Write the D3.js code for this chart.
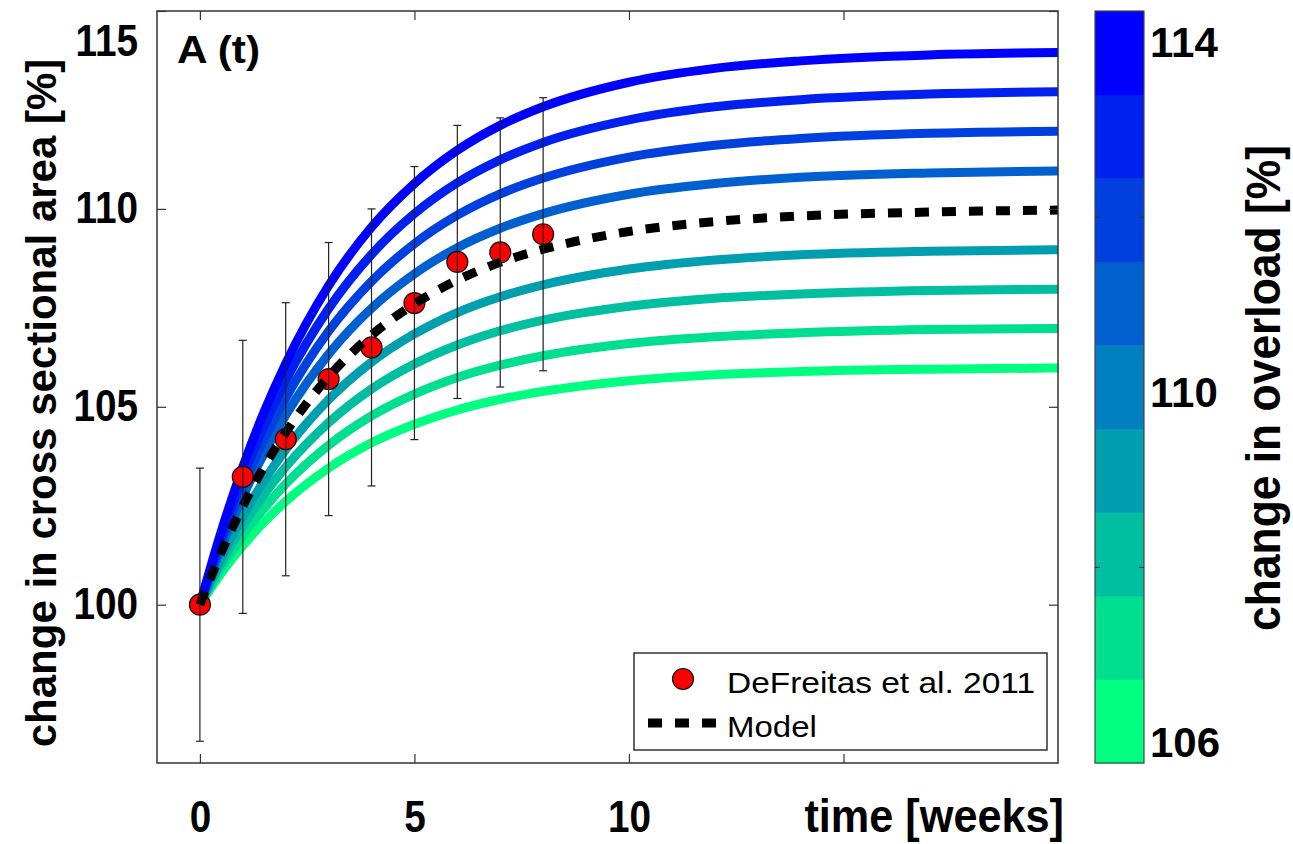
<!DOCTYPE html>
<html>
<head>
<meta charset="utf-8">
<script src="https://cdn.jsdelivr.net/npm/d3@7"></script>
<style>
  body { margin: 0; background: #fff; }
  text { font-family: "Liberation Sans", Arial, sans-serif; }
</style>
</head>
<body>
<div id="chart"></div>
<script>
// time grid (weeks) for the model curves
const weeks = [0, 0.5, 1, 1.5, 2, 3, 4, 5, 6, 7, 8, 10, 12, 14, 17, 20];

// model curves, one per change in overload [%]
const curve106 = [100, 100.80, 101.49, 102.09, 102.61, 103.45, 104.09, 104.56, 104.92, 105.19, 105.39, 105.66, 105.81, 105.89, 105.95, 105.98];
const curve107 = [100, 100.93, 101.74, 102.44, 103.05, 104.03, 104.77, 105.32, 105.74, 106.05, 106.29, 106.60, 106.77, 106.87, 106.95, 106.98];
const curve108 = [100, 101.06, 101.99, 102.79, 103.48, 104.60, 105.45, 106.08, 106.56, 106.92, 107.19, 107.54, 107.74, 107.85, 107.94, 107.97];
const curve109 = [100, 101.20, 102.24, 103.14, 103.92, 105.18, 106.13, 106.84, 107.38, 107.78, 108.08, 108.48, 108.71, 108.84, 108.93, 108.97];
const curve111 = [100, 101.46, 102.73, 103.83, 104.79, 106.33, 107.49, 108.36, 109.02, 109.51, 109.88, 110.37, 110.64, 110.80, 110.91, 110.96];
const curve112 = [100, 101.60, 102.98, 104.18, 105.22, 106.91, 108.17, 109.12, 109.84, 110.38, 110.78, 111.31, 111.61, 111.78, 111.91, 111.96];
const curve113 = [100, 101.73, 103.23, 104.53, 105.66, 107.48, 108.85, 109.88, 110.66, 111.24, 111.68, 112.25, 112.58, 112.76, 112.90, 112.96];
const curve114 = [100, 101.86, 103.48, 104.88, 106.09, 108.06, 109.54, 110.64, 111.48, 112.11, 112.58, 113.20, 113.55, 113.74, 113.89, 113.95];
// the fitted model (110 %)
const modelCurve = [100, 101.33, 102.49, 103.49, 104.35, 105.76, 106.81, 107.60, 108.20, 108.65, 108.98, 109.43, 109.68, 109.82, 109.92, 109.97];

const overloads = [106, 107, 108, 109, 111, 112, 113, 114];
const curveList = [curve106, curve107, curve108, curve109, curve111, curve112, curve113, curve114];

// DeFreitas et al. 2011 measurements
const dataWeeks = [0, 1, 2, 3, 4, 5, 6, 7, 8];
const dataMean = [100, 103.23, 104.18, 105.7, 106.5, 107.62, 108.66, 108.9, 109.36];
const dataErr = [3.45, 3.45, 3.45, 3.45, 3.5, 3.45, 3.45, 3.4, 3.45];

// ticks
const xTicks = [0, 5, 10, 15];
const xTickLabels = ["0", "5", "10", ""];
const yTicks = [100, 105, 110, 115];
const cbLevels = [106, 107, 108, 109, 110, 111, 112, 113, 114];
const cbLabels = [106, 110, 114];
const cbTicks = [108, 112];

const W = 1293, H = 844;
const plot = { left: 157, right: 1058, top: 11, bottom: 763 };
const cb = { left: 1095, right: 1144 };

const svg = d3.select("#chart").append("svg")
    .attr("width", W)
    .attr("height", H);

// squeeze/stretch a text to a given share of its natural width
function squeeze(sel, k) {
    sel.each(function() {
        const w = this.getComputedTextLength();
        d3.select(this).attr("textLength", w * k).attr("lengthAdjust", "spacingAndGlyphs");
    });
}

const x = d3.scaleLinear().domain([-1, 20]).range([plot.left, plot.right]);
const y = d3.scaleLinear().domain([96, 115]).range([plot.bottom, plot.top]);

const winter = d3.scaleLinear().domain([106, 114]).range(["#00ff80", "#0000ff"]);

const line = d3.line()
    .x(d => x(d[0]))
    .y(d => y(d[1]))
    .curve(d3.curveMonotoneX);

// colored curves
svg.append("g").selectAll("path")
    .data(curveList)
    .enter()
    .append("path")
        .attr("d", (c) => line(c.map((v, i) => [weeks[i], v])))
        .attr("fill", "none")
        .attr("stroke", (c, i) => winter(overloads[i]))
        .attr("stroke-width", 9)

// data points
svg.append("g").selectAll("circle")
    .data(dataWeeks)
    .enter()
    .append("circle")
        .attr("cx", (d) => x(d))
        .attr("cy", (d, i) => y(dataMean[i]))
        .attr("r", 10.5)
        .attr("fill", "#ff0000")
        .attr("stroke", "#111")
        .attr("stroke-width", 1.2)

// model (dashed)
svg.append("path")
    .attr("d", line(modelCurve.map((v, i) => [weeks[i], v])))
    .attr("fill", "none")
    .attr("stroke", "#000")
    .attr("stroke-width", 9)
    .attr("stroke-dasharray", "14,13")

// error bars
const eb = svg.append("g").attr("stroke", "#222").attr("stroke-width", 1.2);
dataWeeks.forEach((wk, i) => {
    const lo = y(dataMean[i] - dataErr[i]), hi = y(dataMean[i] + dataErr[i]);
    eb.append("line").attr("x1", x(wk)).attr("x2", x(wk)).attr("y1", lo).attr("y2", hi);
    eb.append("line").attr("x1", x(wk) - 4).attr("x2", x(wk) + 4).attr("y1", lo).attr("y2", lo);
    eb.append("line").attr("x1", x(wk) - 4).attr("x2", x(wk) + 4).attr("y1", hi).attr("y2", hi);
});

// axes box
svg.append("rect")
    .attr("x", plot.left).attr("y", plot.top)
    .attr("width", plot.right - plot.left).attr("height", plot.bottom - plot.top)
    .attr("fill", "none").attr("stroke", "#333").attr("stroke-width", 1.5)

function tickStyle(g) {
    g.select(".domain").remove();
    g.selectAll(".tick line").attr("stroke", "#333").attr("stroke-width", 1.2);
    g.selectAll("text")
        .attr("font-family", "'Liberation Sans', Arial, sans-serif")
        .attr("font-weight", "bold")
        .attr("font-size", 44)
        .attr("fill", "#000");
}

svg.append("g")
    .attr("transform", `translate(0, ${plot.bottom})`)
    .call(d3.axisBottom(x).tickValues(xTicks).tickSizeInner(-9).tickSizeOuter(0).tickPadding(40)
        .tickFormat((d, i) => xTickLabels[i]))
    .call(tickStyle)
    .call(g => g.selectAll("text").attr("dy", "0.66em").call(squeeze, 0.88))

svg.append("g")
    .attr("transform", `translate(0, ${plot.top})`)
    .call(d3.axisTop(x).tickValues(xTicks).tickSizeInner(-9).tickSizeOuter(0).tickFormat(""))
    .call(tickStyle)

svg.append("g")
    .attr("transform", `translate(${plot.left}, 0)`)
    .call(d3.axisLeft(y).tickValues(yTicks).tickSizeInner(-9).tickSizeOuter(0).tickPadding(19))
    .call(tickStyle)
    .call(g => g.selectAll("text").call(squeeze, 0.88))
    .call(g => g.selectAll(".tick").filter(d => d === 115).select("text").attr("dy", "1.0em"))

svg.append("g")
    .attr("transform", `translate(${plot.right}, 0)`)
    .call(d3.axisRight(y).tickValues(yTicks).tickSizeInner(-9).tickSizeOuter(0).tickFormat(""))
    .call(tickStyle)

// axis labels
svg.append("text")
    .attr("x", 1064)
    .attr("y", 832)
    .attr("text-anchor", "end")
    .attr("font-weight", "bold")
    .attr("font-size", 46)
    .text("time [weeks]")
    .call(squeeze, 0.94)

svg.append("text")
    .attr("transform", `translate(56, 403) rotate(-90)`)
    .attr("text-anchor", "middle")
    .attr("font-weight", "bold")
    .attr("font-size", 42)
    .text("change in cross sectional area [%]")

svg.append("text")
    .attr("x", 177)
    .attr("y", 63)
    .attr("font-weight", "bold")
    .attr("font-size", 39)
    .attr("textLength", 83)
    .attr("lengthAdjust", "spacingAndGlyphs")
    .text("A (t)")

// legend
const lg = svg.append("g");
lg.append("rect")
    .attr("x", 634).attr("y", 653).attr("width", 413).attr("height", 97)
    .attr("fill", "#fff").attr("stroke", "#333").attr("stroke-width", 1.5)
lg.append("circle")
    .attr("cx", 683).attr("cy", 679).attr("r", 10.5)
    .attr("fill", "#ff0000").attr("stroke", "#111").attr("stroke-width", 1.2)
lg.append("line")
    .attr("x1", 648).attr("x2", 722).attr("y1", 723).attr("y2", 723)
    .attr("stroke", "#000").attr("stroke-width", 9).attr("stroke-dasharray", "14,13")
lg.append("text")
    .attr("x", 727).attr("y", 693)
    .attr("font-size", 30)
    .attr("textLength", 308)
    .attr("lengthAdjust", "spacingAndGlyphs")
    .text("DeFreitas et al. 2011")
lg.append("text")
    .attr("x", 727).attr("y", 737)
    .attr("font-size", 30)
    .text("Model")
    .call(squeeze, 1.1)

// colorbar
const cbBand = d3.scaleBand().domain(cbLevels.slice().reverse()).range([plot.top, plot.bottom]);
const cbScale = d3.scaleLinear().domain([105.76, 114.35]).range([plot.bottom, plot.top]);

svg.append("g").selectAll("rect")
    .data(cbLevels)
    .enter()
    .append("rect")
        .attr("x", cb.left)
        .attr("y", d => cbBand(d))
        .attr("width", cb.right - cb.left)
        .attr("height", cbBand.bandwidth() + 0.5)
        .attr("fill", d => winter(d))

svg.append("rect")
    .attr("x", cb.left).attr("y", plot.top)
    .attr("width", cb.right - cb.left).attr("height", plot.bottom - plot.top)
    .attr("fill", "none").attr("stroke", "#444").attr("stroke-width", 1.2)

svg.append("g")
    .attr("transform", `translate(${cb.right}, 0)`)
    .call(d3.axisRight(cbScale).tickValues(cbTicks).tickSizeInner(-5).tickSizeOuter(0).tickFormat(""))
    .call(tickStyle)
svg.append("g")
    .attr("transform", `translate(${cb.left}, 0)`)
    .call(d3.axisLeft(cbScale).tickValues(cbTicks).tickSizeInner(-5).tickSizeOuter(0).tickFormat(""))
    .call(tickStyle)

svg.append("g").selectAll("text")
    .data(cbLabels)
    .enter()
    .append("text")
        .attr("x", cb.right + 6)
        .attr("y", d => cbScale(d))
        .attr("dy", "0.36em")
        .attr("font-weight", "bold")
        .attr("font-size", 42)
        .text(d => d)

svg.append("text")
    .attr("transform", `translate(1280, 388) rotate(-90)`)
    .attr("text-anchor", "middle")
    .attr("font-weight", "bold")
    .attr("font-size", 48)
    .attr("textLength", 486)
    .attr("lengthAdjust", "spacingAndGlyphs")
    .text("change in overload [%]")
</script>
</body>
</html>
